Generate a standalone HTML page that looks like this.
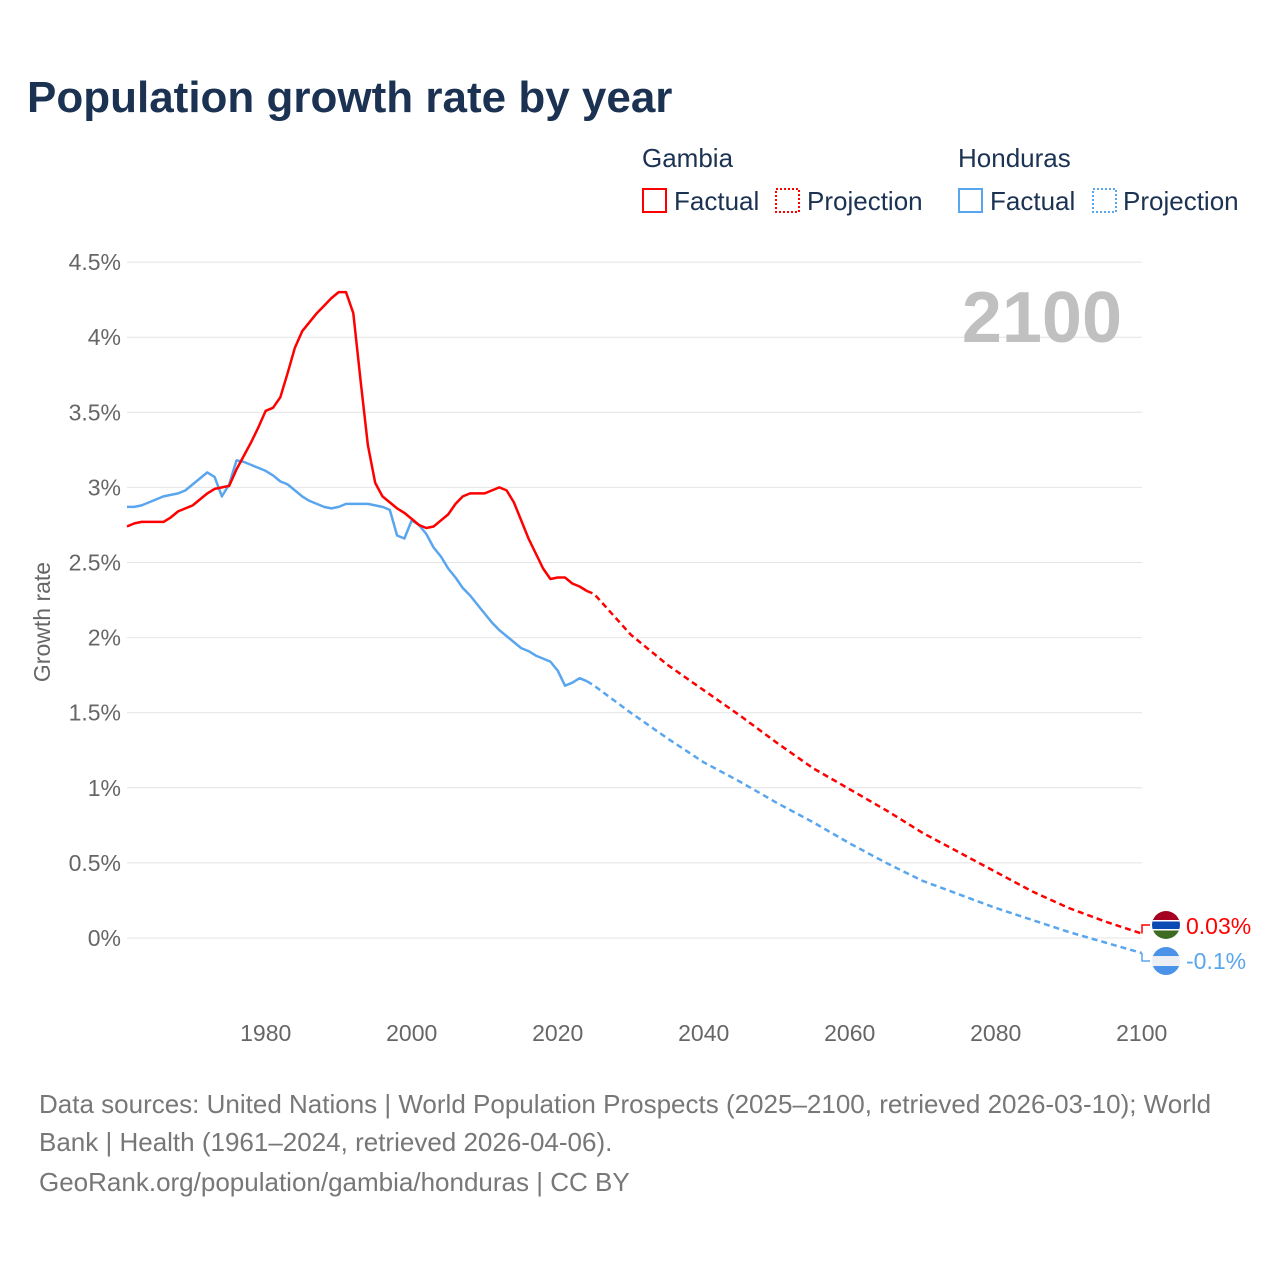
<!DOCTYPE html>
<html><head><meta charset="utf-8"><style>
body{margin:0;background:#fff;font-family:"Liberation Sans",sans-serif}
svg text{font-family:"Liberation Sans",sans-serif}
</style></head><body>
<svg width="1280" height="1280" viewBox="0 0 1280 1280">
<text x="27" y="112" font-size="44" font-weight="bold" fill="#1b3252">Population growth rate by year</text>
<g font-size="26" fill="#1b3252">
<text x="642" y="167">Gambia</text>
<text x="958" y="167">Honduras</text>
<g><rect x="643" y="189" width="23" height="23" fill="none" stroke="#f00" stroke-width="2"/><text x="674" y="210">Factual</text></g>
<g><rect x="776" y="189" width="23" height="23" fill="none" stroke="#f00" stroke-width="2" stroke-dasharray="2,2"/><text x="807" y="210">Projection</text></g>
<g><rect x="959" y="189" width="23" height="23" fill="none" stroke="#5aa6ee" stroke-width="2"/><text x="990" y="210">Factual</text></g>
<g><rect x="1093" y="189" width="23" height="23" fill="none" stroke="#5aa6ee" stroke-width="2" stroke-dasharray="2,2"/><text x="1123" y="210">Projection</text></g>
</g>
<g id="grid"></g>
<text x="1122" y="342" font-size="72" font-weight="bold" fill="#c0c0c0" text-anchor="end">2100</text>
<text transform="translate(50,622) rotate(-90)" font-size="23" fill="#666" text-anchor="middle">Growth rate</text>
<g id="plot"></g>
<g font-size="26" fill="#777">
<text x="39" y="1113">Data sources: United Nations | World Population Prospects (2025–2100, retrieved 2026-03-10); World</text>
<text x="39" y="1151">Bank | Health (1961–2024, retrieved 2026-04-06).</text>
<text x="39" y="1191">GeoRank.org/population/gambia/honduras | CC BY</text>
</g>
</svg>
<script>
const yTicks=[0,0.5,1,1.5,2,2.5,3,3.5,4,4.5];
const yTickLabels=["0%","0.5%","1%","1.5%","2%","2.5%","3%","3.5%","4%","4.5%"];
const xTicks=[1980,2000,2020,2040,2060,2080,2100];
const factualYears=[];for(let y=1961;y<=2024;y++)factualYears.push(y);
const gambiaFactual=[2.74,2.76,2.77,2.77,2.77,2.77,2.80,2.84,2.86,2.88,2.92,2.96,2.99,3.0,3.01,3.12,3.21,3.30,3.40,3.51,3.53,3.60,3.76,3.93,4.04,4.10,4.16,4.21,4.26,4.30,4.30,4.16,3.71,3.28,3.03,2.94,2.90,2.86,2.83,2.79,2.75,2.73,2.74,2.78,2.82,2.89,2.94,2.96,2.96,2.96,2.98,3.0,2.98,2.90,2.78,2.66,2.56,2.46,2.39,2.40,2.40,2.36,2.34,2.31];
const hondurasFactual=[2.87,2.87,2.88,2.90,2.92,2.94,2.95,2.96,2.98,3.02,3.06,3.10,3.07,2.94,3.02,3.18,3.17,3.15,3.13,3.11,3.08,3.04,3.02,2.98,2.94,2.91,2.89,2.87,2.86,2.87,2.89,2.89,2.89,2.89,2.88,2.87,2.85,2.68,2.66,2.78,2.75,2.69,2.60,2.54,2.46,2.40,2.33,2.28,2.22,2.16,2.10,2.05,2.01,1.97,1.93,1.91,1.88,1.86,1.84,1.78,1.68,1.70,1.73,1.71];
const projYears=[2024,2025,2030,2035,2040,2045,2050,2055,2060,2065,2070,2075,2080,2085,2090,2095,2100];
const gambiaProj=[2.31,2.29,2.02,1.82,1.65,1.48,1.30,1.13,0.99,0.85,0.70,0.57,0.44,0.31,0.20,0.11,0.03];
const hondurasProj=[1.71,1.68,1.50,1.33,1.17,1.04,0.90,0.77,0.63,0.50,0.38,0.29,0.20,0.12,0.04,-0.03,-0.10];
const NS="http://www.w3.org/2000/svg";
const X=y=>127+(y-1961)*7.3, Y=v=>938-v*150.2;
function mk(t,a,p){const e=document.createElementNS(NS,t);for(const k in a)e.setAttribute(k,a[k]);p.appendChild(e);return e;}
const grid=document.getElementById('grid'),plot=document.getElementById('plot');
yTicks.forEach((v,i)=>{
 const l=mk('line',{x1:127,x2:1142,y1:Y(v),y2:Y(v),stroke:'#e4e4e4','stroke-width':1},grid);
 
 
 const t=mk('text',{x:121,y:Y(v)+8,'font-size':23,fill:'#666','text-anchor':'end'},grid);
 t.textContent=yTickLabels[i];
 
 
});
xTicks.forEach(v=>{
 const t=mk('text',{x:X(v),y:1041,'font-size':23,fill:'#666','text-anchor':'middle'},grid);
 t.textContent=v;
 
 
});
function line(xs,vs,col,dash,name){
 const d=xs.map((x,i)=>(i?'L':'M')+X(x).toFixed(1)+','+Y(vs[i]).toFixed(1)).join('');
 const p=mk('path',{d:d,fill:'none',stroke:col,'stroke-width':2.5,'stroke-linejoin':'round'},plot);
 if(dash)p.setAttribute('stroke-dasharray','6,4');
 
 
}
line(factualYears,hondurasFactual,'#5aa6ee',false,'honduras-factual-line');
line(factualYears,gambiaFactual,'#f00',false,'gambia-factual-line');
line(projYears,hondurasProj,'#5aa6ee',true,'honduras-projection-line');
line(projYears,gambiaProj,'#f00',true,'gambia-projection-line');
const gEnd=Y(gambiaProj[gambiaProj.length-1]),hEnd=Y(hondurasProj[hondurasProj.length-1]);
const gy=Math.min(gEnd-8,925),hy=Math.max(hEnd+8,960);
const c1=mk('path',{d:`M1142,${gEnd}L1142,${gy}L1150,${gy}`,fill:'none',stroke:'#f00','stroke-width':1.5},plot);


const c2=mk('path',{d:`M1142,${hEnd}L1142,${hy}L1150,${hy}`,fill:'none',stroke:'#5aa6ee','stroke-width':1.5},plot);


const defs=mk('defs',{},plot);
const cgp=mk('clipPath',{id:'cg'},defs);mk('circle',{cx:1166,cy:gy,r:14},cgp);
const ch=mk('clipPath',{id:'ch'},defs);mk('circle',{cx:1166,cy:hy,r:14},ch);
const fg=mk('g',{'clip-path':'url(#cg)'},plot);


mk('rect',{x:1152,y:gy-14,width:28,height:10,fill:'#a50021'},fg);
mk('rect',{x:1152,y:gy-4,width:28,height:9,fill:'#0c4ab3'},fg);
mk('rect',{x:1152,y:gy-5,width:28,height:1.5,fill:'#fff'},fg);
mk('rect',{x:1152,y:gy+4,width:28,height:1.5,fill:'#fff'},fg);
mk('rect',{x:1152,y:gy+5.5,width:28,height:9,fill:'#3d6b22'},fg);
const fh=mk('g',{'clip-path':'url(#ch)'},plot);


mk('rect',{x:1152,y:hy-14,width:28,height:28,fill:'#eceff4'},fh);
mk('rect',{x:1152,y:hy-14,width:28,height:9,fill:'#4a93e8'},fh);
mk('rect',{x:1152,y:hy+5,width:28,height:9,fill:'#4a93e8'},fh);
const tg=mk('text',{x:1186,y:gy+9,'font-size':23,fill:'#f00'},plot);
tg.textContent='0.03%';


const th=mk('text',{x:1186,y:hy+8,'font-size':23,fill:'#5aa6ee'},plot);
th.textContent='-0.1%';


</script>
</body></html>
